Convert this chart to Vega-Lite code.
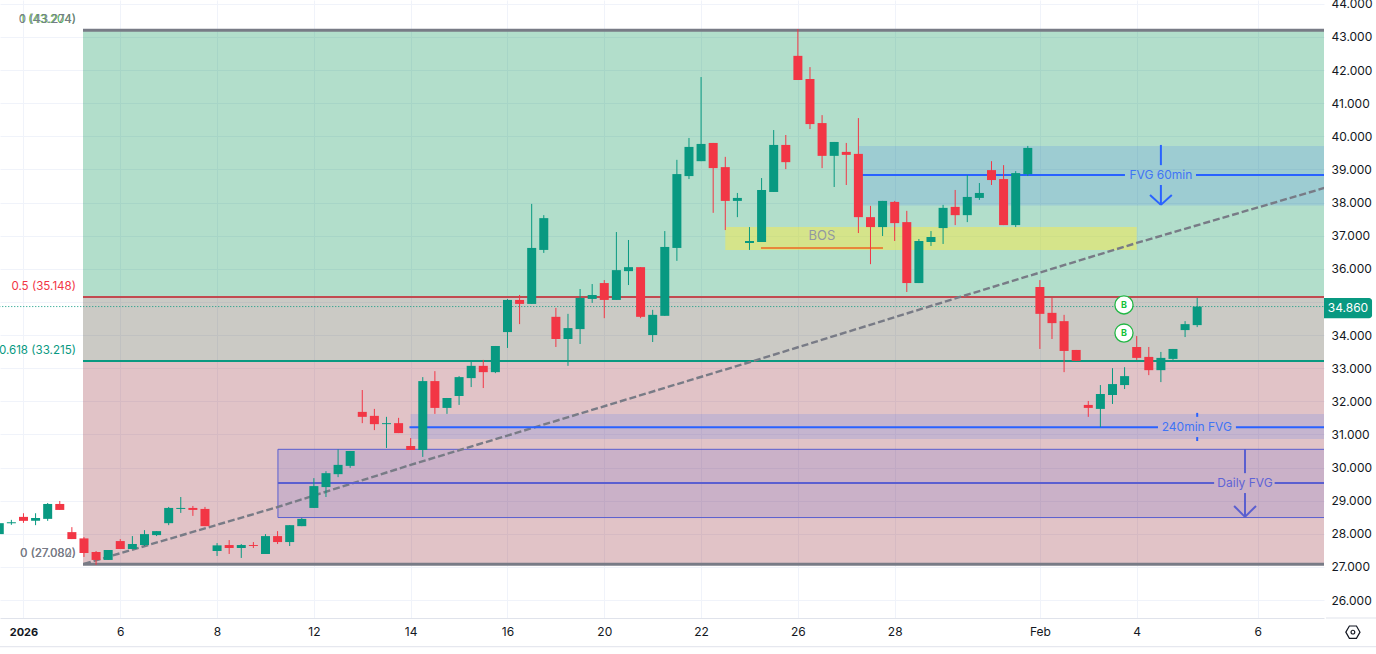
{"$schema":"https://vega.github.io/schema/vega-lite/v6.json","width":1324,"height":618,"autosize":"none","padding":{"left":0,"top":0,"right":52,"bottom":36},"background":"#ffffff","config":{"view":{"stroke":null},"font":"Inter"},"resolve":{"scale":{"color":"independent"}},
"encoding":{"x":{"field":"i","type":"quantitative","title":null,"scale":{"domain":[-9.94,99.48],"nice":false,"zero":false,"padding":0},"axis":{"values":[-8,0,8,16,24,32,40,48,56,64,76,84,94],"labelExpr":"datum.value==-8?'2026':datum.value==0?'6':datum.value==8?'8':datum.value==16?'12':datum.value==24?'14':datum.value==32?'16':datum.value==40?'20':datum.value==48?'22':datum.value==56?'26':datum.value==64?'28':datum.value==76?'Feb':datum.value==84?'4':'6'","labelFont":"Inter","labelFontSize":{"condition":{"test":"datum.value==-8","value":11},"value":12},"labelColor":"#131722","labelFontWeight":{"condition":{"test":"datum.value==-8","value":700},"value":400},"labelPadding":8,"ticks":false,"grid":true,"gridColor":"#f0f3fa","gridWidth":1,"domainColor":"#e0e3eb","labelOverlap":false,"labelFlush":false}},
"y":{"field":"v","type":"quantitative","title":null,"scale":{"domain":[25.457,44.116],"nice":false,"zero":false},"axis":{"orient":"right","values":[26,27,28,29,30,31,32,33,34,35,36,37,38,39,40,41,42,43,44],"labelExpr":"datum.value==35?'':format(datum.value,'.3f')","labelFont":"Inter","labelFontSize":12,"labelColor":"#131722","labelPadding":7,"ticks":false,"grid":true,"gridColor":"#f0f3fa","gridWidth":1,"domain":false,"labelOverlap":false,"labelFlush":false}}},
"layer":[
{"data":{"values":[{"i":-3.08,"i2":99.6,"v":43.204,"v2":35.148,"zone":"upper"},{"i":-3.08,"i2":99.6,"v":35.148,"v2":33.215,"zone":"middle"},{"i":-3.08,"i2":99.6,"v":33.215,"v2":27.08,"zone":"lower"}]},"mark":{"type":"rect","clip":true,"opacity":0.3},"encoding":{"x2":{"field":"i2"},"y2":{"field":"v2"},"color":{"field":"zone","legend":null,"scale":{"domain":["upper","middle","lower"],"range":["#009152","#524e3e","#9b3744"]}}}},
{"data":{"values":[{"i":-10,"i2":99.6,"v":34.86}]},"mark":{"type":"rule","clip":true,"color":"#089981","strokeWidth":1,"strokeDash":[1,2]},"encoding":{"x2":{"field":"i2"}}},
{"data":{"values":[{"i":50.0,"i2":84.0,"v":37.26,"v2":36.57}]},"mark":{"type":"rect","clip":true,"color":"#ffeb3b","opacity":0.45},"encoding":{"x2":{"field":"i2"},"y2":{"field":"v2"}}},
{"data":{"values":[{"i":61.0,"i2":99.6,"v":39.71,"v2":37.91},{"i":24.0,"i2":99.6,"v":31.62,"v2":30.86}]},"mark":{"type":"rect","clip":true,"color":"#2962ff","opacity":0.15},"encoding":{"x2":{"field":"i2"},"y2":{"field":"v2"}}},
{"data":{"values":[{"i":13.03,"i2":100.5,"v":30.55,"v2":28.49}]},"mark":{"type":"rect","clip":true,"fill":"#3f48cc","fillOpacity":0.14,"stroke":"#5a5fd0","strokeWidth":1},"encoding":{"x2":{"field":"i2"},"y2":{"field":"v2"}}},
{"data":{"values":[{"i":-3.08,"i2":99.6,"v":43.204},{"i":-3.08,"i2":99.6,"v":27.08}]},"mark":{"type":"rule","clip":true,"color":"#787b86","strokeWidth":3},"encoding":{"x2":{"field":"i2"}}},
{"data":{"values":[{"i":-3.08,"i2":99.6,"v":35.148}]},"mark":{"type":"rule","clip":true,"color":"#c24a50","strokeWidth":2},"encoding":{"x2":{"field":"i2"}}},
{"data":{"values":[{"i":-3.08,"i2":99.6,"v":33.215}]},"mark":{"type":"rule","clip":true,"color":"#089981","strokeWidth":2},"encoding":{"x2":{"field":"i2"}}},
{"data":{"values":[{"i":-3.0,"v":27.09},{"i":13.03,"v":28.81},{"i":24,"v":30.08},{"i":52.9,"v":33.28},{"i":69.4,"v":35.15},{"i":84,"v":36.78},{"i":99.5,"v":38.44}]},"mark":{"type":"line","clip":true,"color":"#787b86","strokeWidth":2.4,"strokeDash":[7,3]}},
{"data":{"values":[{"i":52.95,"i2":63.03,"v":36.63}]},"mark":{"type":"rule","clip":true,"color":"#e8873a","strokeWidth":2},"encoding":{"x2":{"field":"i2"}}},
{"data":{"values":[{"i":61.29,"i2":83.03,"v":38.83,"v2":38.83},{"i":88.9,"i2":99.6,"v":38.83,"v2":38.83},{"i":86,"i2":86,"v":39.74,"v2":39.13},{"i":86,"i2":86,"v":38.53,"v2":37.93},{"i":85.1,"i2":86,"v":38.23,"v2":37.93},{"i":86.9,"i2":86,"v":38.23,"v2":37.93},{"i":23.9,"i2":85.76,"v":31.22,"v2":31.22},{"i":92.2,"i2":99.6,"v":31.22,"v2":31.22},{"i":89,"i2":89,"v":31.65,"v2":31.53},{"i":89,"i2":89,"v":30.92,"v2":30.8}]},"mark":{"type":"rule","clip":true,"color":"#2962ff","strokeWidth":2},"encoding":{"x2":{"field":"i2"},"y2":{"field":"v2"}}},
{"data":{"values":[{"i":13.03,"i2":90.4,"v":29.53,"v2":29.53},{"i":95.4,"i2":99.6,"v":29.53,"v2":29.53},{"i":92.95,"i2":92.95,"v":30.56,"v2":29.83},{"i":92.95,"i2":92.95,"v":29.23,"v2":28.51},{"i":92.05,"i2":92.95,"v":28.84,"v2":28.51},{"i":93.86,"i2":92.95,"v":28.84,"v2":28.51}]},"mark":{"type":"rule","clip":true,"color":"#5a5fd0","strokeWidth":2},"encoding":{"x2":{"field":"i2"},"y2":{"field":"v2"}}},
{"data":{"name":"candles","values":[
{"i":-10,"open":27.99,"close":28.32,"high":28.32,"low":27.99,"dir":"up"},
{"i":-9,"open":28.32,"close":28.35,"high":28.42,"low":28.27,"dir":"up"},
{"i":-8,"open":28.51,"close":28.39,"high":28.62,"low":28.33,"dir":"down"},
{"i":-7,"open":28.39,"close":28.48,"high":28.62,"low":28.26,"dir":"up"},
{"i":-6,"open":28.45,"close":28.9,"high":28.93,"low":28.39,"dir":"up"},
{"i":-5,"open":28.9,"close":28.72,"high":28.99,"low":28.72,"dir":"down"},
{"i":-4,"open":28.05,"close":27.84,"high":28.2,"low":27.84,"dir":"down"},
{"i":-3,"open":27.86,"close":27.42,"high":27.9,"low":27.3,"dir":"down"},
{"i":-2,"open":27.45,"close":27.21,"high":27.48,"low":27.06,"dir":"down"},
{"i":-1,"open":27.21,"close":27.51,"high":27.51,"low":27.21,"dir":"up"},
{"i":0,"open":27.78,"close":27.54,"high":27.84,"low":27.54,"dir":"down"},
{"i":1,"open":27.54,"close":27.69,"high":27.93,"low":27.54,"dir":"up"},
{"i":2,"open":27.66,"close":27.99,"high":28.11,"low":27.63,"dir":"up"},
{"i":3,"open":27.96,"close":28.08,"high":28.08,"low":27.93,"dir":"up"},
{"i":4,"open":28.32,"close":28.78,"high":28.81,"low":28.26,"dir":"up"},
{"i":5,"open":28.75,"close":28.78,"high":29.11,"low":28.63,"dir":"up"},
{"i":6,"open":28.78,"close":28.72,"high":28.84,"low":28.54,"dir":"down"},
{"i":7,"open":28.75,"close":28.23,"high":28.81,"low":28.23,"dir":"down"},
{"i":8,"open":27.48,"close":27.65,"high":27.72,"low":27.33,"dir":"up"},
{"i":9,"open":27.66,"close":27.57,"high":27.81,"low":27.39,"dir":"down"},
{"i":10,"open":27.57,"close":27.66,"high":27.69,"low":27.27,"dir":"up"},
{"i":11,"open":27.66,"close":27.63,"high":27.75,"low":27.57,"dir":"down"},
{"i":12,"open":27.39,"close":27.93,"high":27.99,"low":27.39,"dir":"up"},
{"i":13,"open":27.93,"close":27.75,"high":28.08,"low":27.69,"dir":"down"},
{"i":14,"open":27.75,"close":28.26,"high":28.26,"low":27.63,"dir":"up"},
{"i":15,"open":28.23,"close":28.45,"high":28.48,"low":28.23,"dir":"up"},
{"i":16,"open":28.78,"close":29.44,"high":29.68,"low":28.78,"dir":"up"},
{"i":17,"open":29.41,"close":29.83,"high":29.89,"low":29.11,"dir":"up"},
{"i":18,"open":29.8,"close":30.08,"high":30.55,"low":29.71,"dir":"up"},
{"i":19,"open":30.05,"close":30.5,"high":30.5,"low":29.99,"dir":"up"},
{"i":20,"open":31.68,"close":31.53,"high":32.34,"low":31.34,"dir":"down"},
{"i":21,"open":31.56,"close":31.31,"high":31.77,"low":31.13,"dir":"down"},
{"i":22,"open":31.31,"close":31.34,"high":31.53,"low":30.59,"dir":"up"},
{"i":23,"open":31.34,"close":31.04,"high":31.5,"low":31.04,"dir":"down"},
{"i":24,"open":30.65,"close":30.53,"high":30.89,"low":30.53,"dir":"down"},
{"i":25,"open":30.53,"close":32.61,"high":32.73,"low":30.32,"dir":"up"},
{"i":26,"open":32.61,"close":31.8,"high":32.91,"low":31.62,"dir":"down"},
{"i":27,"open":31.8,"close":32.1,"high":32.1,"low":31.62,"dir":"up"},
{"i":28,"open":32.16,"close":32.73,"high":32.76,"low":31.89,"dir":"up"},
{"i":29,"open":32.7,"close":33.07,"high":33.19,"low":32.43,"dir":"up"},
{"i":30,"open":33.07,"close":32.88,"high":33.25,"low":32.4,"dir":"down"},
{"i":31,"open":32.88,"close":33.67,"high":33.67,"low":32.85,"dir":"up"},
{"i":32,"open":34.09,"close":35.06,"high":35.09,"low":33.61,"dir":"up"},
{"i":33,"open":35.06,"close":34.94,"high":35.21,"low":34.33,"dir":"down"},
{"i":34,"open":34.94,"close":36.63,"high":37.96,"low":34.94,"dir":"up"},
{"i":35,"open":36.57,"close":37.53,"high":37.62,"low":36.48,"dir":"up"},
{"i":36,"open":34.55,"close":33.88,"high":34.82,"low":33.64,"dir":"down"},
{"i":37,"open":33.88,"close":34.21,"high":34.64,"low":33.07,"dir":"up"},
{"i":38,"open":34.18,"close":35.12,"high":35.39,"low":33.73,"dir":"up"},
{"i":39,"open":35.09,"close":35.21,"high":35.54,"low":34.97,"dir":"up"},
{"i":40,"open":35.57,"close":35.06,"high":35.66,"low":34.51,"dir":"down"},
{"i":41,"open":35.06,"close":35.96,"high":37.11,"low":35.06,"dir":"up"},
{"i":42,"open":35.93,"close":36.05,"high":36.87,"low":35.51,"dir":"up"},
{"i":43,"open":36.05,"close":34.55,"high":36.05,"low":34.51,"dir":"down"},
{"i":44,"open":34,"close":34.61,"high":34.76,"low":33.79,"dir":"up"},
{"i":45,"open":34.58,"close":36.66,"high":37.14,"low":34.58,"dir":"up"},
{"i":46,"open":36.63,"close":38.86,"high":39.29,"low":36.24,"dir":"up"},
{"i":47,"open":38.8,"close":39.68,"high":39.95,"low":38.71,"dir":"up"},
{"i":48,"open":39.25,"close":39.77,"high":41.79,"low":39.25,"dir":"up"},
{"i":49,"open":39.8,"close":39.04,"high":39.8,"low":37.69,"dir":"down"},
{"i":50,"open":39.07,"close":38.05,"high":39.38,"low":37.17,"dir":"down"},
{"i":51,"open":38.05,"close":38.14,"high":38.29,"low":37.56,"dir":"up"},
{"i":52,"open":36.78,"close":36.84,"high":37.26,"low":36.57,"dir":"up"},
{"i":53,"open":36.81,"close":38.38,"high":38.74,"low":36.81,"dir":"up"},
{"i":54,"open":38.32,"close":39.74,"high":40.19,"low":38.32,"dir":"up"},
{"i":55,"open":39.74,"close":39.22,"high":40.04,"low":39.01,"dir":"down"},
{"i":56,"open":42.43,"close":41.7,"high":43.24,"low":41.7,"dir":"down"},
{"i":57,"open":41.73,"close":40.37,"high":42.09,"low":40.22,"dir":"down"},
{"i":58,"open":40.4,"close":39.41,"high":40.64,"low":39.04,"dir":"down"},
{"i":59,"open":39.41,"close":39.83,"high":39.83,"low":38.47,"dir":"up"},
{"i":60,"open":39.53,"close":39.44,"high":39.8,"low":38.53,"dir":"down"},
{"i":61,"open":39.47,"close":37.56,"high":40.55,"low":37.08,"dir":"down"},
{"i":62,"open":37.56,"close":37.26,"high":37.9,"low":36.14,"dir":"down"},
{"i":63,"open":37.26,"close":38.05,"high":38.05,"low":36.99,"dir":"up"},
{"i":64,"open":38.02,"close":37.38,"high":38.05,"low":36.84,"dir":"down"},
{"i":65,"open":37.41,"close":35.57,"high":37.75,"low":35.3,"dir":"down"},
{"i":66,"open":35.57,"close":36.84,"high":36.9,"low":35.57,"dir":"up"},
{"i":67,"open":36.81,"close":36.96,"high":37.14,"low":36.69,"dir":"up"},
{"i":68,"open":37.23,"close":37.84,"high":37.93,"low":36.75,"dir":"up"},
{"i":69,"open":37.87,"close":37.62,"high":38.38,"low":37.32,"dir":"down"},
{"i":70,"open":37.62,"close":38.17,"high":38.83,"low":37.41,"dir":"up"},
{"i":71,"open":38.14,"close":38.29,"high":38.59,"low":38.08,"dir":"up"},
{"i":72,"open":38.98,"close":38.68,"high":39.25,"low":38.53,"dir":"down"},
{"i":73,"open":38.71,"close":37.32,"high":39.13,"low":37.32,"dir":"down"},
{"i":74,"open":37.32,"close":38.89,"high":38.95,"low":37.26,"dir":"up"},
{"i":75,"open":38.86,"close":39.65,"high":39.71,"low":38.8,"dir":"up"},
{"i":76,"open":35.45,"close":34.64,"high":35.66,"low":33.58,"dir":"down"},
{"i":77,"open":34.67,"close":34.36,"high":35.12,"low":33.88,"dir":"down"},
{"i":78,"open":34.42,"close":33.52,"high":34.61,"low":32.88,"dir":"down"},
{"i":79,"open":33.55,"close":33.22,"high":33.55,"low":33.22,"dir":"down"},
{"i":80,"open":31.89,"close":31.8,"high":32.01,"low":31.53,"dir":"down"},
{"i":81,"open":31.77,"close":32.22,"high":32.49,"low":31.22,"dir":"up"},
{"i":82,"open":32.19,"close":32.52,"high":33,"low":31.92,"dir":"up"},
{"i":83,"open":32.49,"close":32.76,"high":33.03,"low":32.37,"dir":"up"},
{"i":84,"open":33.64,"close":33.31,"high":33.97,"low":33.25,"dir":"down"},
{"i":85,"open":33.34,"close":32.94,"high":33.64,"low":32.79,"dir":"down"},
{"i":86,"open":32.94,"close":33.31,"high":33.49,"low":32.58,"dir":"up"},
{"i":87,"open":33.28,"close":33.58,"high":33.58,"low":33.25,"dir":"up"},
{"i":88,"open":34.15,"close":34.33,"high":34.42,"low":33.94,"dir":"up"},
{"i":89,"open":34.3,"close":34.86,"high":35.12,"low":34.24,"dir":"up"}]},
"mark":{"type":"rule","clip":true,"strokeWidth":1},"encoding":{"y":{"field":"low","type":"quantitative"},"y2":{"field":"high"},"color":{"field":"dir","legend":null,"scale":{"domain":["up","down"],"range":["#089981","#f23645"]}}}},
{"data":{"name":"candles"},"mark":{"type":"bar","clip":true,"size":9},"encoding":{"y":{"field":"open","type":"quantitative"},"y2":{"field":"close"},"color":{"field":"dir","legend":null,"scale":{"domain":["up","down"],"range":["#089981","#f23645"]}}}},
{"data":{"values":[{"i":82.95,"v":34.91},{"i":82.95,"v":34.06}]},"mark":{"type":"point","shape":"circle","size":330,"filled":true,"fill":"#ffffff","stroke":"#22b845","strokeWidth":1.3,"opacity":1}},
{"data":{"values":[{"i":82.95,"v":34.91,"t":"B"},{"i":82.95,"v":34.06,"t":"B"}]},"mark":{"type":"text","font":"Inter","fontSize":9,"fontWeight":700,"color":"#16c23a","align":"center","baseline":"middle"},"encoding":{"text":{"field":"t"}}},
{"data":{"values":[{"i":-3.66,"v":35.46,"t":"0.5 (35.148)"}]},"mark":{"type":"text","font":"Inter","fontSize":11.6,"color":"#f23645","align":"right","baseline":"middle"},"encoding":{"text":{"field":"t"}}},
{"data":{"values":[{"i":-3.66,"v":33.52,"t":"0.618 (33.215)"}]},"mark":{"type":"text","font":"Inter","fontSize":11.6,"color":"#089981","align":"right","baseline":"middle"},"encoding":{"text":{"field":"t"}}},
{"data":{"values":[{"i":-3.66,"v":43.51,"t":"1 (43.204)"}]},"mark":{"type":"text","font":"Inter","fontSize":11.6,"color":"#4caf50","align":"right","baseline":"middle"},"encoding":{"text":{"field":"t"}}},
{"data":{"values":[{"i":-3.66,"v":43.51,"t":"0 (43.274)"},{"i":-3.66,"v":27.39,"t":"0 (27.080)"},{"i":-3.66,"v":27.39,"t":"0 (27.082)"}]},"mark":{"type":"text","font":"Inter","fontSize":11.6,"color":"#787b86","align":"right","baseline":"middle"},"encoding":{"text":{"field":"t"}}},
{"data":{"values":[{"i":57.98,"v":36.99,"t":"BOS"}]},"mark":{"type":"text","font":"Inter","fontSize":13,"color":"#9198a1","align":"center","baseline":"middle"},"encoding":{"text":{"field":"t"}}},
{"data":{"values":[{"i":86,"v":38.83,"t":"FVG 60min"},{"i":88.97,"v":31.22,"t":"240min FVG"}]},"mark":{"type":"text","font":"Inter","fontSize":12,"color":"#3f74f5","align":"center","baseline":"middle"},"encoding":{"text":{"field":"t"}}},
{"data":{"values":[{"i":92.95,"v":29.53,"t":"Daily FVG"}]},"mark":{"type":"text","font":"Inter","fontSize":12,"color":"#5f64d6","align":"center","baseline":"middle"},"encoding":{"text":{"field":"t"}}},
{"data":{"values":[{"i":99.48,"i2":103.45,"v":35.12,"v2":34.51}]},"mark":{"type":"rect","color":"#089981","cornerRadiusTopRight":3,"cornerRadiusBottomRight":3},"encoding":{"x2":{"field":"i2"},"y2":{"field":"v2"}}},
{"data":{"values":[{"i":101.46,"v":34.81,"t":"34.860"}]},"mark":{"type":"text","font":"Inter","fontSize":12,"fontWeight":400,"color":"#ffffff","align":"center","baseline":"middle"},"encoding":{"text":{"field":"t"}}},
{"data":{"values":[{"i":-9.94,"i2":103.8,"v":24.59},{"i":99.65,"i2":103.8,"v":25.457}]},"mark":{"type":"rule","color":"#e0e3eb","strokeWidth":1},"encoding":{"x2":{"field":"i2"}}},
{"data":{"values":[{"i":101.87,"v":25.03}]},"mark":{"type":"point","shape":"M-1,0 L-0.5,-0.87 L0.5,-0.87 L1,0 L0.5,0.87 L-0.5,0.87 Z","size":200,"filled":false,"stroke":"#131722","strokeWidth":1.2,"opacity":1}},
{"data":{"values":[{"i":101.87,"v":25.03}]},"mark":{"type":"point","shape":"circle","size":14,"filled":false,"stroke":"#131722","strokeWidth":1.2,"opacity":1}}
]}
